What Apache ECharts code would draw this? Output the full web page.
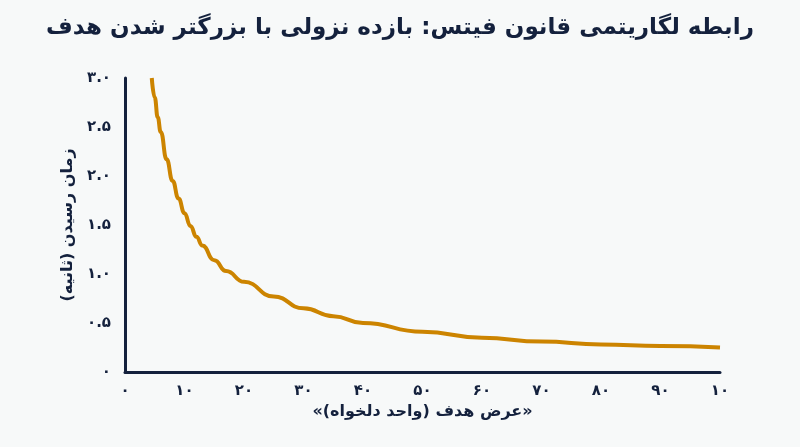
<!DOCTYPE html>
<html><head><meta charset="utf-8">
<script src="https://cdn.jsdelivr.net/npm/echarts@6/dist/echarts.min.js"></script>
<style>html,body{margin:0;padding:0;background:#f7f9f9}#c{width:800px;height:447px}</style>
</head><body><div id="c"></div>
<script>
const widths = [4.5,5,5.5,6,7,8,9,10,11,12,13,15,17,20,25,30,35,40,50,60,70,80,90,100];
const times = [3.0,2.8,2.6,2.45,2.17,1.95,1.77,1.62,1.49,1.38,1.29,1.14,1.03,0.92,0.77,0.65,0.57,0.5,0.41,0.35,0.31,0.28,0.265,0.25];
const xTickLabels = ['۰','۱۰','۲۰','۳۰','۴۰','۵۰','۶۰','۷۰','۸۰','۹۰','۱۰'];
const yTickLabels = ['۰','۰.۵','۱.۰','۱.۵','۲.۰','۲.۵','۳.۰'];
const navy = '#14213d';
const font = '"DejaVu Sans", "Noto Sans", sans-serif';
const chart = echarts.init(document.getElementById('c'));
chart.setOption({
  backgroundColor:'#f7f9f9',
  title:{text:'رابطه لگاریتمی قانون فیتس: بازده نزولی با بزرگتر شدن هدف',left:'center',top:12,
    textStyle:{color:navy,fontSize:23,fontWeight:'bold',fontFamily:font}},
  grid:{left:125,right:80,top:78,bottom:75},
  xAxis:{type:'value',min:0,max:100,interval:10,
    name:'«عرض هدف (واحد دلخواه)»',nameLocation:'middle',nameGap:28,
    nameTextStyle:{color:navy,fontSize:16,fontWeight:'bold',fontFamily:font},
    axisLine:{lineStyle:{color:navy,width:3}},axisTick:{show:false},splitLine:{show:false},
    axisLabel:{color:navy,fontSize:15,fontWeight:'bold',margin:12,fontFamily:font,
      formatter:v=>xTickLabels[Math.round(v/10)]}},
  yAxis:{type:'value',min:0,max:3,interval:0.5,
    name:'زمان رسیدن (ثانیه)',nameLocation:'middle',nameGap:32,nameRotate:90,
    nameTextStyle:{color:navy,fontSize:16,fontWeight:'bold',fontFamily:font},
    axisLine:{show:true,lineStyle:{color:navy,width:3}},axisTick:{show:false},splitLine:{show:false},
    axisLabel:{color:navy,fontSize:15,fontWeight:'bold',margin:14,fontFamily:font,
      formatter:v=>yTickLabels[Math.round(v*2)]}},
  series:[{type:'line',smooth:true,smoothMonotone:'x',showSymbol:false,
    data:widths.map((w,i)=>[w,times[i]]),
    lineStyle:{color:'#cc8400',width:4}}]
});
</script></body></html>
